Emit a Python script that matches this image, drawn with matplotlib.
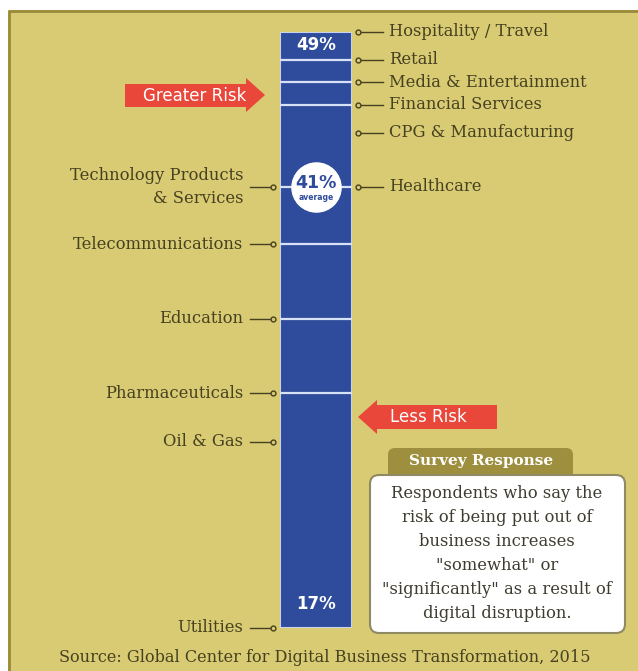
import matplotlib.pyplot as plt
from matplotlib.patches import Rectangle, Polygon, FancyBboxPatch

# survey share per industry (percent)
right_names = ["Hospitality / Travel", "Retail", "Media & Entertainment",
               "Financial Services", "CPG & Manufacturing", "Healthcare"]
right_pct = [49, 47.5, 46.3, 45.1, 43.6, 40.7]
left_names = ["Technology Products\n& Services", "Telecommunications", "Education",
              "Pharmaceuticals", "Oil & Gas", "Utilities"]
left_pct = [40.7, 37.6, 33.6, 29.6, 27.0, 17]
divider_pct = [47.5, 46.3, 45.1, 40.7, 37.6, 33.6, 29.6]
top_pct = 49
bottom_pct = 17
average_pct = 41
average_pos = 40.7

W, H = 638, 671
TAN = "#D9CA74"
OLIVE = "#9A8B3A"
BLUE = "#2F4B9B"
RED = "#E8473A"
TXT = "#46411F"
FONT = "DejaVu Serif"

fig = plt.figure(figsize=(W / 100, H / 100), dpi=100, facecolor="white")

# overlay in pixel coords for the decoration
ov = fig.add_axes([0, 0, 1, 1], zorder=0)
ov.set_xlim(0, W)
ov.set_ylim(H, 0)
ov.axis("off")
ov.add_patch(Rectangle((8, 10), W - 8, H - 10, facecolor=TAN, edgecolor="none"))
ov.plot([8.5, 8.5, W], [H, 10.5, 10.5], color=OLIVE, lw=2, solid_capstyle="butt")

# arrows
ov.add_patch(Polygon([(125, 84), (246, 84), (246, 78), (265, 95), (246, 112), (246, 107), (125, 107)],
                     closed=True, facecolor=RED, edgecolor="none"))
ov.text(195, 96, "Greater Risk", color="white", fontsize=12, family="DejaVu Sans",
        ha="center", va="center")
ov.add_patch(Polygon([(497, 405), (377, 405), (377, 400), (358, 417), (377, 434), (377, 429), (497, 429)],
                     closed=True, facecolor=RED, edgecolor="none"))
ov.text(428, 417, "Less Risk", color="white", fontsize=12, family="DejaVu Sans",
        ha="center", va="center")

# survey response box
ov.add_patch(FancyBboxPatch((388, 448), 185, 32, boxstyle="round,pad=0,rounding_size=7",
                            facecolor="#9E8F3E", edgecolor="none"))
ov.text(481, 461, "Survey Response", color="white", fontsize=11, fontweight="bold",
        family=FONT, ha="center", va="center")
ov.add_patch(FancyBboxPatch((370, 475), 255, 158, boxstyle="round,pad=0,rounding_size=9",
                            facecolor="white", edgecolor="#8F8A62", lw=1.5))
box_lines = ["Respondents who say the", "risk of being put out of", "business increases",
             "\"somewhat\" or", "\"significantly\" as a result of", "digital disruption."]
for i, line in enumerate(box_lines):
    ov.text(497, 493 + i * 24, line, color="#3E3C30", fontsize=11.8, family=FONT,
            ha="center", va="center")

ov.text(325, 658, "Source: Global Center for Digital Business Transformation, 2015",
        color=TXT, fontsize=11.6, family=FONT, ha="center", va="center")

# the bar itself
ax = fig.add_axes([280 / W, (H - 628) / H, 72 / W, 596 / H], zorder=1)
ax.set_facecolor("none")
ax.set_xlim(0, 1)
ax.set_ylim(bottom_pct, top_pct)
ax.axis("off")
ax.bar([0.5], [top_pct - bottom_pct], bottom=bottom_pct, width=1, color=BLUE,
       edgecolor="#C8D2EE", lw=1.5)
ax.hlines(divider_pct, 0, 1, color="#D8E2F6", lw=1.6)

ax.text(0.5, 48.3, f"{top_pct}%", color="white", fontsize=12, fontweight="bold",
        family="DejaVu Sans", ha="center", va="center")
ax.text(0.5, 18.3, f"{bottom_pct}%", color="white", fontsize=12, fontweight="bold",
        family="DejaVu Sans", ha="center", va="center")

ax.scatter([0.5], [average_pos], s=1250, color="white", zorder=3, clip_on=False)
ax.text(0.5, average_pos + 0.2, f"{average_pct}%", color=BLUE, fontsize=12.5, fontweight="bold",
        family="DejaVu Sans", ha="center", va="center", zorder=4)
ax.text(0.5, average_pos - 0.6, "average", color=BLUE, fontsize=5.5, fontweight="bold",
        family="DejaVu Sans", ha="center", va="center", zorder=4)

for name, p in zip(right_names, right_pct):
    ax.plot([1.09, 1.43], [p, p], color=TXT, lw=1, clip_on=False)
    ax.plot([1.09], [p], marker="o", ms=3.5, mfc=TAN, mec=TXT, mew=1, clip_on=False)
    ax.text(1.51, p, name, color=TXT, fontsize=11.8, family=FONT, ha="left", va="center")

for name, p in zip(left_names, left_pct):
    ax.plot([-0.42, -0.1], [p, p], color=TXT, lw=1, clip_on=False)
    ax.plot([-0.1], [p], marker="o", ms=3.5, mfc=TAN, mec=TXT, mew=1, clip_on=False)
    ax.text(-0.51, p, name, color=TXT, fontsize=11.8, family=FONT, ha="right", va="center",
            multialignment="right", linespacing=1.45)

fig.savefig("out.png", dpi=100, facecolor="white")
